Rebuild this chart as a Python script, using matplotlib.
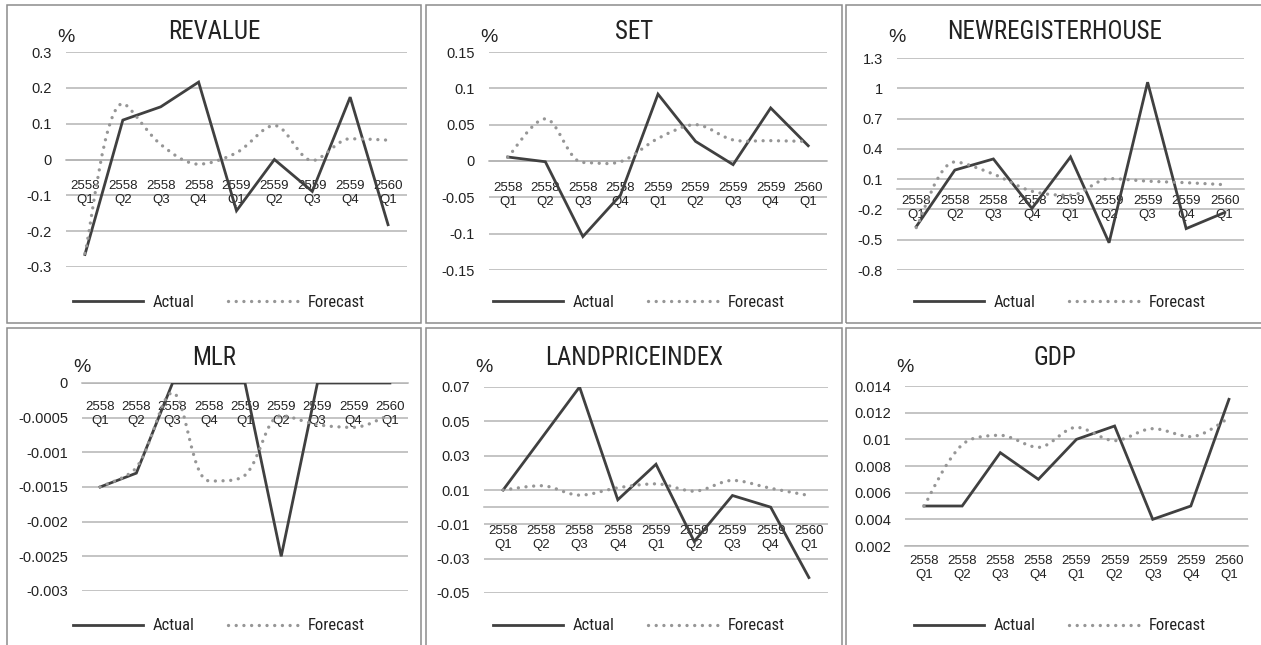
import numpy as np
import matplotlib
matplotlib.use('Agg')
import matplotlib.pyplot as plt
from matplotlib.path import Path
from matplotlib.patches import PathPatch, Rectangle
from matplotlib.lines import Line2D

NARROW = ['Liberation Sans Narrow', 'Roboto Condensed', 'Liberation Sans', 'DejaVu Sans']
REG = ['Liberation Sans', 'DejaVu Sans']
plt.rcParams['font.family'] = REG

quarters = ['2558\nQ1', '2558\nQ2', '2558\nQ3', '2558\nQ4', '2559\nQ1',
            '2559\nQ2', '2559\nQ3', '2559\nQ4', '2560\nQ1']

revalue_actual = [-0.265, 0.110, 0.147, 0.216, -0.143, 0.0, -0.089, 0.174, -0.182]
revalue_forecast = [-0.262, 0.156, 0.042, -0.013, 0.019, 0.095, -0.003, 0.058, 0.054]
revalue_ticks = [-0.3, -0.2, -0.1, 0, 0.1, 0.2, 0.3]

set_actual = [0.0055, -0.001, -0.104, -0.047, 0.092, 0.027, -0.005, 0.073, 0.021]
set_forecast = [0.005, 0.058, -0.002, -0.001, 0.031, 0.050, 0.029, 0.028, 0.027]
set_ticks = [-0.15, -0.1, -0.05, 0, 0.05, 0.1, 0.15]

house_actual = [-0.37, 0.19, 0.30, -0.19, 0.32, -0.53, 1.06, -0.39, -0.23]
house_forecast = [-0.38, 0.27, 0.15, -0.02, -0.06, 0.105, 0.08, 0.065, 0.045]
house_ticks = [-0.8, -0.5, -0.2, 0.1, 0.4, 0.7, 1, 1.3]

mlr_actual = [-0.0015, -0.0013, 0, 0, 0, -0.0025, 0, 0, 0]
mlr_forecast = [-0.0015, -0.00122, -0.00014, -0.00141, -0.00133, -0.00047, -0.0006, -0.00064, -0.00046]
mlr_ticks = [-0.003, -0.0025, -0.002, -0.0015, -0.001, -0.0005, 0]

land_actual = [0.01, 0.04, 0.07, 0.0043, 0.025, -0.02, 0.0068, 0.0, -0.041]
land_forecast = [0.010, 0.0125, 0.007, 0.0113, 0.0136, 0.0093, 0.0156, 0.011, 0.0068]
land_ticks = [-0.05, -0.03, -0.01, 0.01, 0.03, 0.05, 0.07]

gdp_actual = [0.005, 0.005, 0.009, 0.007, 0.010, 0.011, 0.004, 0.005, 0.013]
gdp_forecast = [0.005, 0.0096, 0.0103, 0.0094, 0.0109, 0.0099, 0.0108, 0.0102, 0.0116]
gdp_ticks = [0.002, 0.004, 0.006, 0.008, 0.01, 0.012, 0.014]

W, H = 1261, 645
fig = plt.figure(figsize=(W / 100, H / 100), dpi=100)

ACT = '#404040'
FC = '#969696'
GRID = '#b4b4b4'
TXT = '#222222'
dots = (0, (0.01, 2.3))


def smooth_path(x, y, sx, sy):
    # excel-like smoothed line, bezier segments computed in pixel space
    p = np.column_stack([np.asarray(x, float) * sx, np.asarray(y, float) * sy])
    n = len(p)
    d = np.hypot(*np.diff(p, axis=0).T)
    d = np.concatenate([[d[0]], d, [d[-1]]])
    tan = np.empty_like(p)
    tan[0] = p[1] - p[0]
    tan[-1] = p[-1] - p[-2]
    tan[1:-1] = p[2:] - p[:-2]
    # flat tangent at local peaks / dips so the curve turns at the point
    for i in range(1, n - 1):
        if (p[i, 1] - p[i - 1, 1]) * (p[i + 1, 1] - p[i, 1]) < 0:
            tan[i, 1] = 0
    verts = [p[0]]
    codes = [Path.MOVETO]
    for i in range(n - 1):
        di = d[i + 1]
        c1 = p[i] + tan[i] * di / (d[i] + di) / 3
        c2 = p[i + 1] - tan[i + 1] * di / (di + d[i + 2]) / 3
        verts += [c1, c2, p[i + 1]]
        codes += [Path.CURVE4] * 3
    verts = np.array(verts) / [sx, sy]
    return Path(verts, codes)


def px_rect(l, t, r, b):
    return [l / W, 1 - b / H, (r - l) / W, (b - t) / H]


def panel(box, area, title, actual, forecast, ticks, cross, top_row, xpad):
    bl, bt, br, bb = box
    fig.add_artist(Rectangle((bl / W, 1 - bb / H), (br - bl) / W, (bb - bt) / H,
                             transform=fig.transFigure, fill=False,
                             edgecolor='#8c8c8c', lw=1.1))
    ax = fig.add_axes(px_rect(*area))
    x = np.arange(len(quarters))
    ax.set_xlim(-0.5, len(quarters) - 0.5)
    ax.set_ylim(min(ticks), max(ticks))
    ax.set_yticks(ticks)
    ax.set_yticklabels(['%g' % t for t in ticks])
    ax.set_xticks(x)
    ax.set_xticklabels(quarters, linespacing=1.3)
    for t in ticks:
        ax.axhline(t, color=GRID, lw=1.1, zorder=1)
    for s in ['top', 'left', 'right']:
        ax.spines[s].set_visible(False)
    ax.spines['bottom'].set_position(('data', cross))
    ax.spines['bottom'].set_color(GRID)
    ax.spines['bottom'].set_linewidth(1.1)
    ax.tick_params(axis='y', length=0, pad=10, labelsize=10.5, labelcolor=TXT)
    ax.tick_params(axis='x', length=0, pad=xpad, labelsize=9.5, labelcolor=TXT)
    ax.patch.set_alpha(0)

    sx = (area[2] - area[0]) / len(quarters)
    sy = (area[3] - area[1]) / (max(ticks) - min(ticks))
    ax.plot(x, actual, color=ACT, lw=2.0, zorder=3, solid_joinstyle='miter')
    ax.add_patch(PathPatch(smooth_path(x, forecast, sx, sy), fill=False, edgecolor=FC,
                           lw=2.4, linestyle=dots, capstyle='round', zorder=4))

    cx = (bl + br) / 2
    ty = 32 if top_row else 358
    ly = 302 if top_row else 626
    py = 38 if top_row else 367
    fig.text(cx / W, 1 - ty / H, title, ha='center', va='center', fontsize=18,
             color=TXT, family=NARROW)
    fig.text(area[0] / W, 1 - py / H, '%', ha='center', va='center', fontsize=14, color=TXT)

    handles = [Line2D([], [], color=ACT, lw=2.0),
               Line2D([], [], color=FC, lw=2.4, linestyle=dots, dash_capstyle='round')]
    ax.legend(handles, ['Actual', 'Forecast'], loc='center', ncol=2, frameon=False,
              bbox_to_anchor=((cx + 5) / W, 1 - ly / H), bbox_transform=fig.transFigure,
              prop={'family': NARROW, 'size': 12}, handlelength=4.2, handletextpad=0.6,
              columnspacing=2.0, labelcolor=TXT)
    return ax


panel((7, 5, 421, 323), (66, 52, 407, 267), 'REVALUE', revalue_actual, revalue_forecast, revalue_ticks, 0, True, 15)
panel((426, 5, 842, 323), (489, 52, 827, 270), 'SET', set_actual, set_forecast, set_ticks, 0, True, 15)
panel((846, 5, 1264, 323), (897, 58, 1244, 270), 'NEWREGISTERHOUSE', house_actual, house_forecast, house_ticks, 0, True, 4.5)
panel((7, 328, 421, 648), (82, 383, 408, 591), 'MLR', mlr_actual, mlr_forecast, mlr_ticks, 0, False, 13)
panel((426, 328, 842, 648), (484, 387, 828, 593), 'LANDPRICEINDEX', land_actual, land_forecast, land_ticks, 0, False, 13)
panel((846, 328, 1264, 648), (905, 386, 1248, 546), 'GDP', gdp_actual, gdp_forecast, gdp_ticks, 0.002, False, 6.5)

fig.savefig('out.png', dpi=100)
